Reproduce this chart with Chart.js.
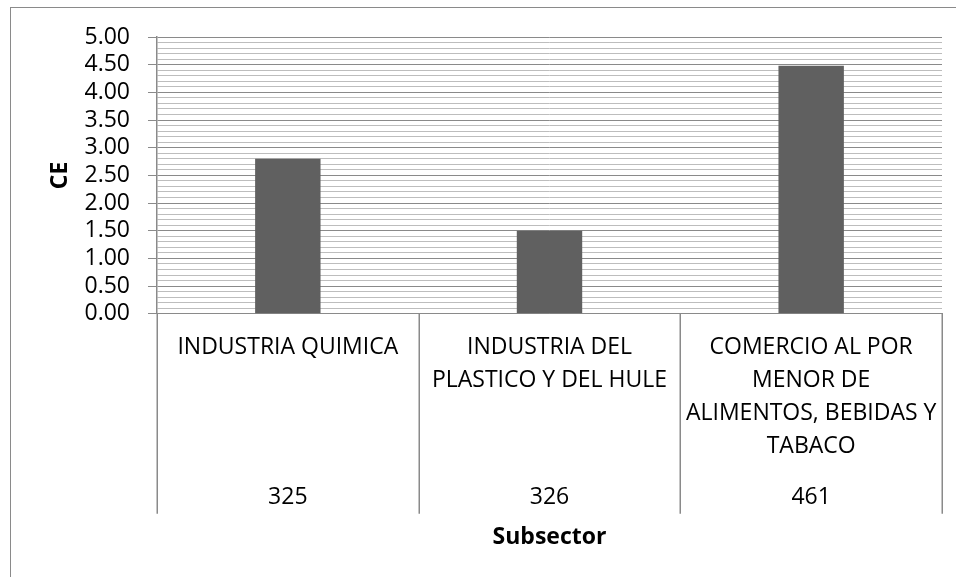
<!DOCTYPE html>
<html>
<head>
<meta charset="utf-8">
<script src="https://cdn.jsdelivr.net/npm/chart.js@4.4.1/dist/chart.umd.min.js"></script>
<style>
  html, body { margin: 0; padding: 0; background: #fff; }
  #marco {
    position: absolute; left: 10px; top: 7px; width: 980px; height: 620px;
    border: 1.5px solid #8a8a8a; pointer-events: none;
  }
  #grafico { position: absolute; left: 0; top: 0; }
</style>
</head>
<body>
<canvas id="grafico" width="956" height="577"></canvas>
<div id="marco"></div>
<script>
// Datos del grafico
var subsectores = [
  ['INDUSTRIA QUIMICA'],
  ['INDUSTRIA DEL', 'PLASTICO Y DEL HULE'],
  ['COMERCIO AL POR', 'MENOR DE', 'ALIMENTOS, BEBIDAS Y', 'TABACO']
];
var codigos = ['325', '326', '461'];
var valoresCE = [2.80, 1.50, 4.48];

var gris = '#8a8a8a';
var grisClaro = '#bdbdbd';

Chart.defaults.font.family = "'Open Sans', sans-serif";
Chart.defaults.font.size = 23;
Chart.defaults.color = '#000';

// marcas de 0.5 en 0.5 (las principales)
function esPrincipal(v) {
  return Math.abs(v * 2 - Math.round(v * 2)) < 1e-6;
}

// lineas verticales que separan las cajas de las categorias (dos niveles)
var separadores = {
  id: 'separadores',
  afterDraw: function (chart) {
    var ex = chart.scales.x;
    var ex2 = chart.scales.x2;
    var c = chart.ctx;
    var fin = ex2.top + 51;
    c.save();
    c.strokeStyle = gris;
    c.lineWidth = 1.5;
    for (var i = 0; i <= ex.ticks.length; i++) {
      var px = Math.round(ex.getPixelForValue(i - 0.5)) + 0.25;
      c.beginPath();
      c.moveTo(px, chart.chartArea.bottom);
      c.lineTo(px, fin);
      c.stroke();
    }
    c.restore();
  }
};

var ctx = document.getElementById('grafico').getContext('2d');
var miGrafico = new Chart(ctx, {
  type: 'bar',
  data: {
    labels: subsectores,
    datasets: [{
      data: valoresCE,
      backgroundColor: '#606060',
      barPercentage: 0.25,
      categoryPercentage: 1
    }]
  },
  options: {
    responsive: false,
    animation: false,
    layout: { padding: { left: 55, right: 14, top: 37, bottom: 26 } },
    plugins: { legend: { display: false }, tooltip: { enabled: false } },
    scales: {
      x: {
        type: 'category',
        position: 'bottom',
        weight: 0,
        offset: true,
        grid: {
          offset: true,
          drawOnChartArea: false,
          color: 'transparent',
          tickColor: 'transparent',
          tickLength: 17.5
        },
        border: { color: gris },
        ticks: {
          padding: 0,
          maxRotation: 0,
          autoSkip: false,
          font: { lineHeight: 1.43 }
        }
      },
      x2: {
        type: 'category',
        labels: codigos,
        position: 'bottom',
        weight: 1,
        offset: true,
        grid: {
          offset: true,
          drawOnChartArea: false,
          color: 'transparent',
          tickColor: 'transparent',
          tickLength: 18
        },
        border: { display: false },
        ticks: {
          padding: 0,
          maxRotation: 0,
          autoSkip: false,
          font: { lineHeight: 1.43 }
        },
        title: {
          display: true,
          text: 'Subsector',
          font: { weight: 'bold', lineHeight: 1.2 },
          padding: { top: 9.7, bottom: 0 }
        }
      },
      y: {
        min: 0,
        max: 5,
        grid: {
          color: function (c) { return esPrincipal(c.tick.value) ? gris : grisClaro; },
          tickColor: function (c) { return esPrincipal(c.tick.value) ? gris : 'transparent'; },
          tickLength: 9
        },
        border: { color: gris, width: 1.5 },
        ticks: {
          stepSize: 0.1,
          maxTicksLimit: 60,
          autoSkip: false,
          padding: 18,
          callback: function (v) { return esPrincipal(v) ? v.toFixed(2) : ''; }
        },
        title: {
          display: true,
          text: 'CE',
          font: { weight: 'bold', lineHeight: 0.5 },
          padding: 0
        }
      }
    }
  },
  plugins: [separadores]
});
</script>
</body>
</html>
